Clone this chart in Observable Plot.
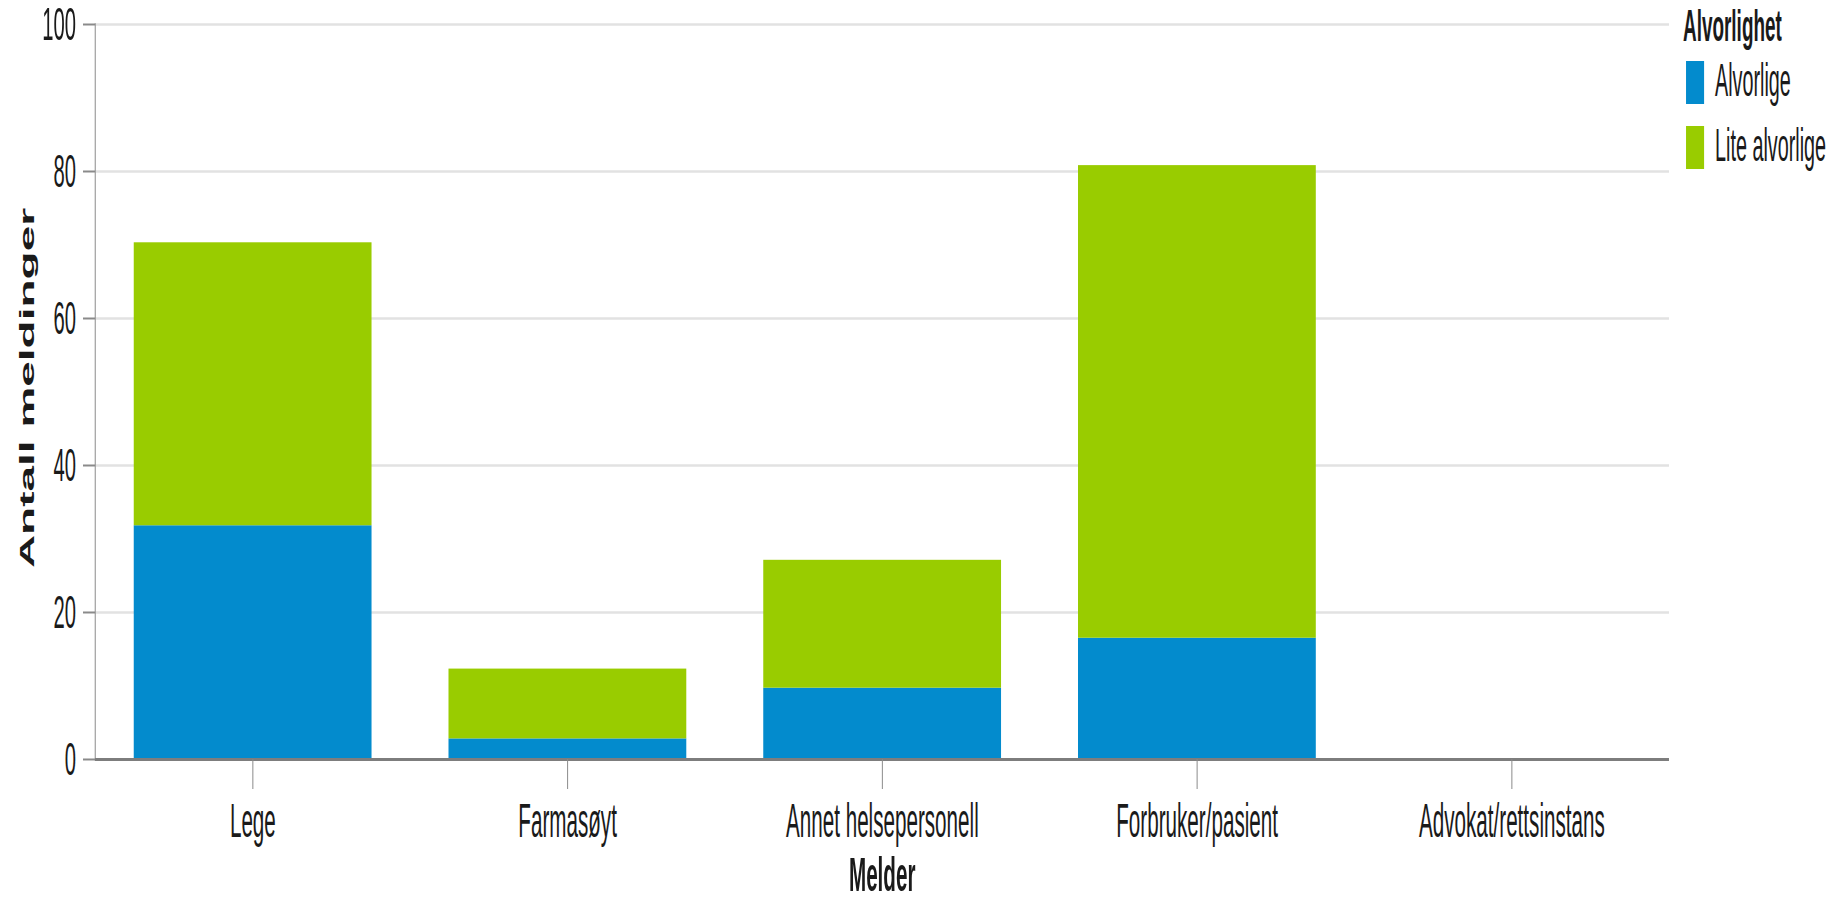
<!DOCTYPE html>
<html>
<head>
<meta charset="utf-8">
<script src="https://cdn.jsdelivr.net/npm/d3@7"></script>
<script src="https://cdn.jsdelivr.net/npm/@observablehq/plot@0.6"></script>
<style>
html, body { margin: 0; padding: 0; background: #fff; overflow: hidden; }
#wrap { position: absolute; left: 0; top: 0; height: 901px; transform-origin: 0 0; font-family: "Liberation Sans", Arial, sans-serif; color: #222; }
#wrap .lg { position: absolute; white-space: nowrap; line-height: 1; }
#wrap .sw { position: absolute; }
</style>
</head>
<body>
<div id="wrap"></div>
<script>
// ---- data ----
const categories = ["Lege", "Farmasøyt", "Annet helsepersonell", "Forbruker/pasient", "Advokat/rettsinstans"];
const series = ["Alvorlige", "Lite alvorlige"];
const alvorlige = [31.8, 2.8, 9.7, 16.5, 0];
const liteAlvorlige = [38.5, 9.5, 17.4, 64.3, 0];
const colors = ["#038bcd", "#99cc00"];
const yTicks = [0, 20, 40, 60, 80, 100];
const xTitle = "Melder";
const yTitle = "Antall meldinger";
const legendTitle = "Alvorlighet";

const rows = categories.flatMap((c, i) => [
  {melder: c, alvorlighet: series[0], n: alvorlige[i]},
  {melder: c, alvorlighet: series[1], n: liteAlvorlige[i]}
]);

// horizontal squeeze of the reference picture
const S = 0.43;
const W = 1836 / S;
const wrap = document.getElementById("wrap");
wrap.style.width = W + "px";
wrap.style.transform = `scaleX(${S})`;

const mL = 95 / S, mR = (1836 - 1669) / S;

const chart = Plot.plot({
  width: W,
  height: 901,
  marginLeft: mL,
  marginRight: mR,
  marginTop: 24,
  marginBottom: 142,
  style: {fontFamily: "'Liberation Sans', Arial, sans-serif", background: "white", color: "#222", overflow: "visible"},
  x: {domain: categories, paddingInner: 0.245, paddingOuter: 0.12, label: null, axis: null},
  y: {domain: [0, 100], label: null, axis: null},
  color: {domain: series, range: colors},
  marks: [
    Plot.gridY(yTicks, {stroke: "#e2e2e2", strokeOpacity: 1, strokeWidth: 2.5}),
    Plot.barY(rows, {x: "melder", y: "n", fill: "alvorlighet"}),
    Plot.frame({anchor: "left", stroke: "#8a8a8a", strokeWidth: 2.3}),
    Plot.ruleY([0], {stroke: "#7d7d7d", strokeWidth: 3}),
    Plot.axisY(yTicks, {tickSize: 28, tickPadding: 17, stroke: "#8a8a8a", strokeWidth: 2, fill: "#1a1a1a", fontSize: 47, label: null}),
    Plot.axisX({tickSize: 30, tickPadding: 13, stroke: "#8a8a8a", strokeWidth: 2.3, fill: "#1a1a1a", fontSize: 48, label: null}),
    Plot.text([xTitle], {frameAnchor: "bottom", dy: 132, lineAnchor: "bottom", fontSize: 48, fontWeight: "bold", fill: "#1a1a1a"}),
    Plot.text([yTitle], {frameAnchor: "left", rotate: -90, dx: 67 / S - mL - 77, dy: -4, lineAnchor: "bottom", textAnchor: "middle", fontSize: 46, fontWeight: "bold", fill: "#1a1a1a"})
  ]
});
wrap.appendChild(chart);

// legend (same colors / series as the bars)
const lgX = 1683 / S;
const t = document.createElement("div");
t.className = "lg";
t.textContent = legendTitle;
t.style.cssText = `left:${lgX}px; top:4px; font-size:44px; font-weight:bold; color:#1a1a1a;`;
wrap.appendChild(t);
const swTops = [61, 126];
series.forEach((s, i) => {
  const sw = document.createElement("div");
  sw.className = "sw";
  sw.style.cssText = `left:${1686 / S}px; top:${swTops[i]}px; width:${18 / S}px; height:43px; background:${colors[i]};`;
  wrap.appendChild(sw);
  const lb = document.createElement("div");
  lb.className = "lg";
  lb.textContent = s;
  lb.style.cssText = `left:${1715 / S}px; top:${swTops[i] - 4}px; font-size:46px; color:#1a1a1a;`;
  wrap.appendChild(lb);
});
</script>
</body>
</html>
